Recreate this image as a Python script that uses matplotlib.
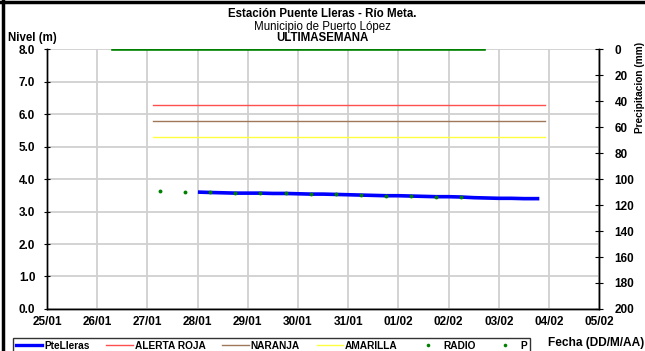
import matplotlib
matplotlib.use('Agg')
import matplotlib.pyplot as plt
import matplotlib.dates as mdates
from matplotlib.lines import Line2D
import pandas as pd

plt.rcParams['font.family'] = ['Liberation Sans', 'DejaVu Sans']

# nivel PteLleras (m)
nivel_fechas = ['2010-01-28 01:00', '2010-01-28 06:00', '2010-01-28 12:00', '2010-01-28 18:00',
                '2010-01-29 00:00', '2010-01-29 06:00', '2010-01-29 12:00', '2010-01-29 18:00',
                '2010-01-30 00:00', '2010-01-30 06:00', '2010-01-30 12:00', '2010-01-30 18:00',
                '2010-01-31 00:00', '2010-01-31 06:00', '2010-01-31 12:00', '2010-01-31 18:00',
                '2010-02-01 00:00', '2010-02-01 06:00', '2010-02-01 12:00', '2010-02-01 18:00',
                '2010-02-02 00:00', '2010-02-02 06:00', '2010-02-02 12:00', '2010-02-02 18:00',
                '2010-02-03 00:00', '2010-02-03 06:00', '2010-02-03 12:00', '2010-02-03 18:30']
nivel = [3.60, 3.59, 3.58, 3.57, 3.57, 3.57, 3.56, 3.56, 3.55, 3.54, 3.54, 3.53,
         3.52, 3.51, 3.50, 3.49, 3.49, 3.48, 3.47, 3.46, 3.46, 3.45, 3.43, 3.42,
         3.41, 3.41, 3.40, 3.40]

# lecturas RADIO (m)
radio_fechas = ['2010-01-27 06:00', '2010-01-27 18:00', '2010-01-28 06:00', '2010-01-28 18:00',
                '2010-01-29 06:00', '2010-01-29 18:00', '2010-01-30 06:00', '2010-01-30 18:00',
                '2010-01-31 06:00', '2010-01-31 18:00', '2010-02-01 06:00', '2010-02-01 18:00',
                '2010-02-02 06:00']
radio = [3.64, 3.62, 3.59, 3.57, 3.57, 3.56, 3.54, 3.53, 3.51, 3.49, 3.48, 3.46, 3.46]

# umbrales de alerta (m)
alerta_fechas = ['2010-01-27 02:30', '2010-02-03 22:00']
alerta_roja = [6.3, 6.3]
naranja = [5.8, 5.8]
amarilla = [5.3, 5.3]

# precipitacion (mm)
p_fechas = ['2010-01-26 07:30', '2010-02-02 17:00']
p_valores = [0, 0]

xticks = pd.date_range('2010-01-25', '2010-02-05', freq='D')

fig = plt.figure(figsize=(6.45, 3.51), dpi=100)
ax = fig.add_axes([0.073, 0.12, 0.856, 0.739])
ax2 = ax.twinx()

ax.plot(pd.to_datetime(alerta_fechas), alerta_roja, color='#ff5050', lw=1.0, zorder=3)
ax.plot(pd.to_datetime(alerta_fechas), naranja, color='#a07858', lw=1.0, zorder=3)
ax.plot(pd.to_datetime(alerta_fechas), amarilla, color='#ffff40', lw=1.0, zorder=3)
ax.plot(pd.to_datetime(nivel_fechas), nivel, color='#0000ff', lw=2.6, zorder=4)
ax.plot(pd.to_datetime(radio_fechas), radio, ls='none', marker='o', ms=2.8, mew=0,
        color='#008000', zorder=5)
ax2.plot(pd.to_datetime(p_fechas), p_valores, color='#008000', lw=2.6, zorder=5)

ax.set_ylim(0, 8)
ax.set_yticks([0, 1, 2, 3, 4, 5, 6, 7, 8])
ax.set_yticklabels(['%.1f' % v for v in range(9)])
ax2.set_ylim(200, 0)
ax2.set_yticks(range(0, 201, 20))
ax.set_xlim(xticks[0], xticks[-1])
ax.set_xticks(xticks)
ax.xaxis.set_major_formatter(mdates.DateFormatter('%d/%m'))

ax.grid(True, color='#d0d0d0', lw=1.3)
ax.set_axisbelow(True)
for a in (ax, ax2):
    a.spines['top'].set_visible(False)
    a.spines['left'].set_linewidth(1.0)
    a.spines['right'].set_linewidth(1.0)
    a.spines['bottom'].set_linewidth(1.0)
ax.tick_params(axis='y', direction='inout', length=5, labelsize=8.5, pad=6)
ax.tick_params(axis='x', direction='in', length=0, labelsize=8.5, pad=5)
ax2.tick_params(axis='y', direction='inout', length=6, labelsize=8.5, pad=8)
for lab in ax.get_xticklabels() + ax.get_yticklabels() + ax2.get_yticklabels():
    lab.set_fontweight('bold')

fig.text(0.50, 0.960, 'Estación Puente Lleras - Río Meta.', ha='center', va='center',
         fontsize=8.3, fontweight='bold')
fig.text(0.50, 0.923, 'Municipio de Puerto López', ha='center', va='center', fontsize=8.3)
fig.text(0.50, 0.891, 'ULTIMASEMANA', ha='center', va='center', fontsize=8.3, fontweight='bold')
fig.text(0.013, 0.892, 'Nivel (m)', ha='left', va='center', fontsize=8.3, fontweight='bold')
fig.text(0.993, 0.88, 'Precipitacion (mm)', ha='center', va='top', rotation=90,
         fontsize=7.3, fontweight='bold')
fig.text(0.85, 0.022, 'Fecha (DD/M/AA)', ha='left', va='center', fontsize=8.6, fontweight='bold')

handles = [Line2D([], [], color='#0000ff', lw=2.4),
           Line2D([], [], color='#ff5050', lw=1.0),
           Line2D([], [], color='#a07858', lw=1.0),
           Line2D([], [], color='#ffff40', lw=1.0),
           Line2D([], [], ls='none', marker='o', ms=2.6, mew=0, color='#008000'),
           Line2D([], [], ls='none', marker='o', ms=2.6, mew=0, color='#008000')]
labels = ['PteLleras', 'ALERTA ROJA', 'NARANJA', 'AMARILLA', 'RADIO', 'P']
leg = fig.legend(handles, labels, loc='upper left', bbox_to_anchor=(0.02, 0.038), ncol=6,
                 frameon=True, fancybox=False, edgecolor='black', handlelength=2.6,
                 handletextpad=0.2, columnspacing=1.65, borderpad=0.3, borderaxespad=0,
                 prop={'size': 7.3, 'weight': 'bold'})
leg.get_frame().set_linewidth(1.0)

# marco exterior
fig.add_artist(Line2D([0.004, 0.004], [0, 1], color='black', lw=2.5, transform=fig.transFigure))
fig.add_artist(Line2D([0, 1], [0.994, 0.994], color='black', lw=2.5, transform=fig.transFigure))

fig.savefig('out.png', dpi=100)
